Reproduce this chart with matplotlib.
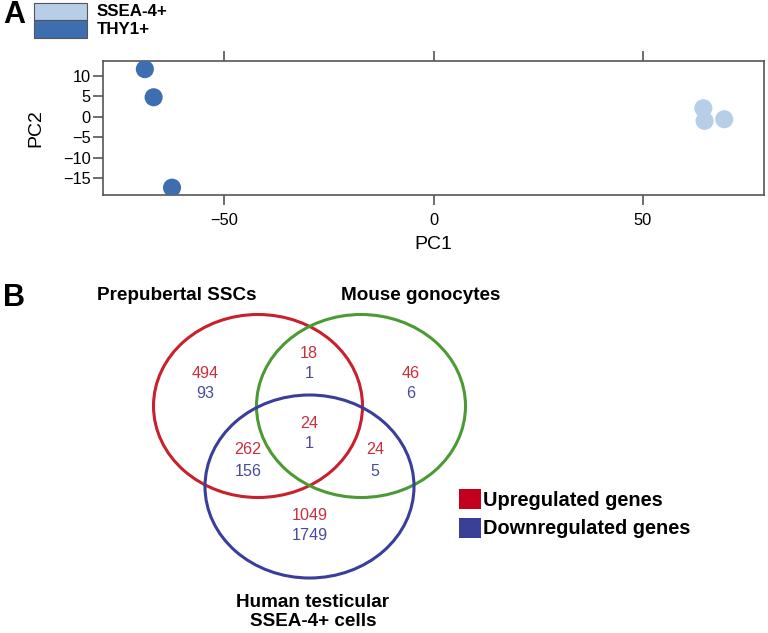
import numpy as np
import matplotlib
matplotlib.use("Agg")
import matplotlib.pyplot as plt
from matplotlib.patches import Ellipse, Rectangle

plt.rcParams["font.family"] = ["Liberation Sans", "DejaVu Sans"]

# Panel A data: PCA scores
groups = ["SSEA-4+", "THY1+"]
group_colors = ["#b7cfe6", "#3d6fb0"]
ssea_pc1 = [64.5, 64.8, 69.5]
ssea_pc2 = [2.1, -1.0, -0.6]
thy_pc1 = [-69.0, -66.9, -62.5]
thy_pc2 = [11.7, 4.8, -17.4]

# Panel B data: Venn counts (up, down) per region
set_names = ["Prepubertal SSCs", "Mouse gonocytes", "Human testicular\nSSEA-4+ cells"]
region_up = [494, 18, 46, 24, 262, 24, 1049]
region_down = [93, 1, 6, 1, 156, 5, 1749]
legend_labels = ["Upregulated genes", "Downregulated genes"]

W, H = 768, 633
fig = plt.figure(figsize=(W / 100, H / 100), dpi=100)

# ---- Panel A ----
axA = fig.add_axes([103 / W, 1 - 195 / H, (764 - 103) / W, (195 - 61) / H])
axA.scatter(ssea_pc1, ssea_pc2, s=170, color=group_colors[0], edgecolors="none", zorder=3)
axA.scatter(thy_pc1, thy_pc2, s=170, color=group_colors[1], edgecolors="none", zorder=3)
axA.set_xlim(-79, 79)
axA.set_ylim(-19.2, 13.7)
axA.set_xticks([-50, 0, 50])
axA.set_xticklabels(["\u221250", "0", "50"])
axA.set_yticks([10, 5, 0, -5, -10, -15])
axA.set_yticklabels(["10", "5", "0", "\u22125", "\u221210", "\u221215"])
axA.tick_params(axis="x", direction="out", length=7, width=1.2, color="#555555",
                labelsize=11.8, pad=6, top=True)
axA.tick_params(axis="y", direction="out", length=7, width=1.2, color="#555555",
                labelsize=11.8, pad=2)
for sp in axA.spines.values():
    sp.set_color("#555555")
    sp.set_linewidth(1.2)
axA.set_xlabel("PC1", fontsize=14, labelpad=6)
axA.set_ylabel("PC2", fontsize=14, labelpad=13)

# ---- Overlay in pixel coordinates for labels and Venn ----
ov = fig.add_axes([0, 0, 1, 1])
ov.set_xlim(0, W)
ov.set_ylim(H, 0)
ov.axis("off")
ov.patch.set_alpha(0)

ov.text(3, 15, "A", fontsize=22, fontweight="bold", va="center", ha="left")
ov.text(3, 298, "B", fontsize=22, fontweight="bold", va="center", ha="left")

# top legend (stacked colour swatches)
ov.add_patch(Rectangle((34, 3), 53, 17, facecolor=group_colors[0], edgecolor="#555555", lw=0.8))
ov.add_patch(Rectangle((34, 20), 53, 18, facecolor=group_colors[1], edgecolor="#555555", lw=0.8))
ov.text(97, 12, groups[0], fontsize=12.2, fontweight="bold", va="center", ha="left")
ov.text(97, 30, groups[1], fontsize=12.2, fontweight="bold", va="center", ha="left")

# Venn ellipses
circle_colors = ["#c8202c", "#4b9a34", "#3b3d9a"]
centers = [(258, 406), (361, 406), (309.5, 486.5)]
for (cx, cy), c in zip(centers, circle_colors):
    ov.add_patch(Ellipse((cx, cy), 209, 183, fill=False, edgecolor=c, lw=2.2))

ov.text(177, 296, set_names[0], fontsize=13.6, fontweight="bold", ha="center", va="center")
ov.text(421, 296, set_names[1], fontsize=13.6, fontweight="bold", ha="center", va="center")
ov.text(313, 612, set_names[2], fontsize=13.6, fontweight="bold", ha="center", va="center",
        linespacing=1.1)

up_color = "#c8303e"
down_color = "#4a4aa2"
region_pos = [(205, 373), (309, 353), (411, 373), (309, 423), (248, 450), (375, 450), (310, 515)]
for (x, y), u, d in zip(region_pos, region_up, region_down):
    ov.text(x, y, str(u), color=up_color, fontsize=11.6, ha="center", va="center")
    ov.text(x, y + 21, str(d), color=down_color, fontsize=11.6, ha="center", va="center")

# bottom legend
leg_colors = ["#c2001e", "#3a3f98"]
for i, (lab, c) in enumerate(zip(legend_labels, leg_colors)):
    y0 = 489 + i * 29
    ov.add_patch(Rectangle((459, y0), 22, 20, facecolor=c, edgecolor="none"))
    ov.text(483, y0 + 11, lab, fontsize=14.4, fontweight="bold", ha="left", va="center")

fig.savefig("out.png", dpi=100)
